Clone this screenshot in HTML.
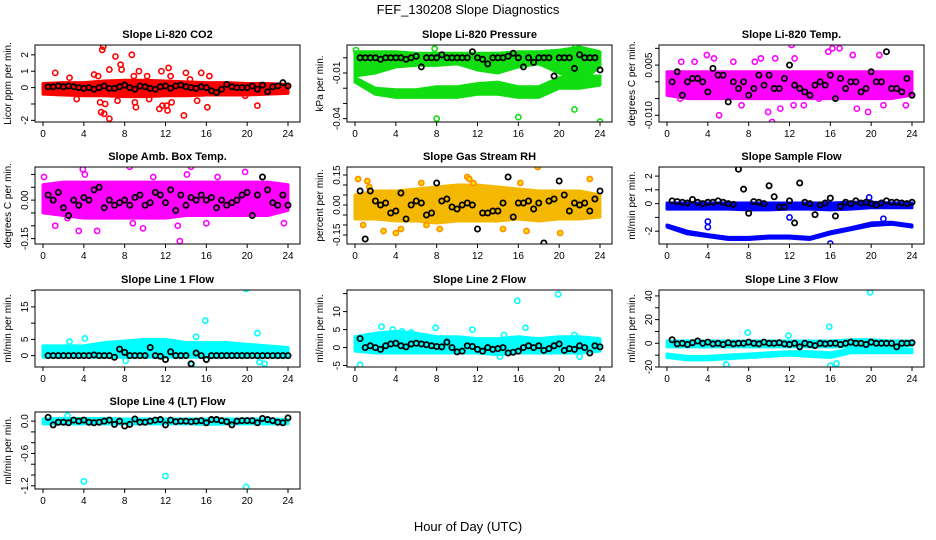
<!DOCTYPE html>
<html><head><meta charset="utf-8"><style>
html,body{margin:0;padding:0;background:#fff;}
svg{display:block;font-family:"Liberation Sans",sans-serif;}
</style></head><body>
<svg id="chart" width="936" height="540" viewBox="0 0 936 540">
<text x="468" y="14" text-anchor="middle" font-size="13">FEF_130208  Slope Diagnostics</text>
<text x="468" y="531" text-anchor="middle" font-size="13">Hour of Day (UTC)</text>
</svg>
<script>
const bandHours=[0,2,4,6,8,10,12,14,16,18,20,22,24];
const blackHours=[0.5,1,1.5,2,2.5,3,3.5,4,4.5,5,5.5,6,6.5,7,7.5,8,8.5,9,9.5,10,10.5,11,11.5,12,12.5,13,13.5,14,14.5,15,15.5,16,16.5,17,17.5,18,18.5,19,19.5,20,20.5,21,21.5,22,22.5,23,23.5,24];
const xTicks=[0,4,8,12,16,20,24];

const co2Lo=[-0.4,-0.45,-0.5,-0.5,-0.55,-0.55,-0.5,-0.5,-0.45,-0.45,-0.45,-0.4,-0.35];
const co2Hi=[0.25,0.3,0.3,0.4,0.45,0.45,0.4,0.35,0.3,0.3,0.25,0.25,0.2];
const co2ScatX=[1.2,2.6,3.3,5.0,5.4,5.6,5.8,5.9,6.0,5.7,6.1,6.5,6.5,7.1,7.6,7.7,7.3,8.7,8.9,9.1,9.4,9.0,10.2,10.4,11.4,11.6,11.7,12.1,12.2,12.3,12.5,12.6,13.8,14.0,14.4,15.1,15.5,16.1,16.3,19.8,21.0];
const co2ScatY=[0.9,0.6,-0.7,0.8,0.7,-0.9,2.3,2.5,-1.6,-1.5,-1.0,-1.9,1.1,1.9,1.4,1.1,-0.8,2.0,0.7,-1.2,1.0,-0.9,0.7,-0.7,-1.3,1.0,-1.1,-1.1,-1.4,1.2,0.7,-0.9,-1.7,0.9,0.5,-0.8,0.9,-1.2,0.7,-0.5,-1.1];
const co2Black=[0.05,0.05,0.1,0.05,0.1,0.05,0,-0.05,0,-0.1,0,0.1,-0.05,-0.05,0.05,0.15,0,-0.1,0.1,0.05,-0.05,-0.1,0.05,0.1,-0.05,0.1,0.15,0.05,0,-0.05,0.05,0,-0.2,-0.3,-0.1,0.2,0.05,0,0,0,0.1,-0.1,0.15,-0.25,0.05,0.1,0.3,0.1];

const presLo=[-0.012,-0.01,-0.006,-0.005,-0.005,-0.004,-0.008,-0.01,-0.006,-0.004,-0.01,-0.016,-0.006];
const presHi=[0.004,0.004,0.004,0.003,0.003,0.003,0.003,0.003,0.004,0.004,0.005,0.007,0.004];
const presLo2=[-0.016,-0.024,-0.026,-0.026,-0.026,-0.026,-0.024,-0.024,-0.026,-0.026,-0.02,-0.02,-0.018];
const presHi2=[-0.013,-0.02,-0.021,-0.021,-0.019,-0.019,-0.017,-0.016,-0.019,-0.019,-0.013,-0.012,-0.012];
const presScatX=[8,16,21.5,24,7.8,21.6,0.1];
const presScatY=[-0.04,-0.039,-0.034,-0.042,0.006,0.007,0.005];
const presBlack=[0,0,0,0,-0.001,0,0,0,0,-0.001,0,0.001,-0.006,0,0,0,0.002,0,0,0,0,0,0.004,0,-0.001,-0.004,0,0,0,0.001,0.003,0,-0.006,0,-0.003,0,0,0,-0.012,0,0,0,-0.007,0.002,0,0,0,-0.008];

const tempLo=[-0.004,-0.005,-0.005,-0.005,-0.005,-0.005,-0.005,-0.005,-0.005,-0.005,-0.005,-0.005,-0.004];
const tempHi=[0.003,0.003,0.003,0.003,0.003,0.003,0.003,0.003,0.003,0.003,0.003,0.003,0.003];
const tempScatX=[1.4,2.7,3.9,4.6,6.5,8.6,9.2,10.6,12.2,12.5,15.8,16.2,16.9,18.2,20.8,5.1,10.3,9.9,11.1,12.4,13.4,18.6,19.7,21.2,23.4,1.3,7.3,14.9];
const tempScatY=[0.006,0.006,0.008,0.007,0.006,0.006,0.007,0.007,0.011,0.007,0.009,0.010,0.010,0.008,0.008,-0.010,-0.012,-0.009,-0.008,-0.007,-0.007,-0.008,-0.009,-0.007,-0.007,-0.005,-0.007,-0.005];
const tempBlack=[0,0.003,-0.004,0,0.001,0.001,0,-0.003,0.004,0.002,0.002,-0.006,0,-0.002,0,-0.004,-0.002,0.002,-0.001,0.002,-0.002,-0.002,0.001,0.005,-0.001,-0.002,-0.003,-0.004,-0.001,0,-0.001,0.002,-0.005,0.001,-0.002,0,0,-0.003,-0.002,0.003,0,0,0.009,-0.002,-0.002,-0.003,0.001,-0.004];

const ambLo=[-0.05,-0.06,-0.07,-0.07,-0.07,-0.07,-0.07,-0.06,-0.06,-0.06,-0.06,-0.06,-0.04];
const ambHi=[0.06,0.07,0.07,0.07,0.07,0.07,0.07,0.07,0.07,0.07,0.07,0.07,0.06];
const ambScatX=[0.1,3.9,4.1,8.5,10.8,14.5,14.1,19.8,17.1,1.2,3.5,5.3,8.8,9.8,13.4,13.2,23.6,2.4,16.0];
const ambScatY=[0.09,0.12,0.1,0.13,0.09,0.13,0.1,0.11,0.09,-0.1,-0.12,-0.12,-0.09,-0.11,-0.16,-0.1,-0.09,-0.07,-0.09];
const ambBlack=[0.02,0,0.03,-0.03,-0.06,0,-0.02,0.01,0,0.04,0.05,-0.03,0,-0.02,-0.01,0,-0.02,0.01,0.02,-0.02,-0.01,0.03,0.02,-0.01,0.04,-0.04,0.02,-0.02,0.01,0,0.02,0,0.01,-0.03,0,-0.02,-0.01,0,0.02,0.03,-0.06,0.02,0.09,0.04,-0.01,-0.02,0.02,-0.02];

const rhLo=[-0.07,-0.07,-0.08,-0.08,-0.09,-0.08,-0.08,-0.08,-0.07,-0.08,-0.07,-0.07,-0.06];
const rhHi=[0.05,0.07,0.07,0.08,0.09,0.1,0.1,0.09,0.08,0.07,0.07,0.07,0.05];
const rhScatX=[0.3,1.2,1.4,11.0,11.2,11.6,17.9,16.2,4.0,4.5,2.8,6.5,14.5,16.8,20.1,23.0,0.8,7.0,8.3];
const rhScatY=[0.13,0.12,0.09,0.14,0.13,0.11,0.19,0.11,-0.14,-0.12,-0.13,0.11,-0.12,-0.13,-0.14,0.13,-0.1,-0.1,-0.12];
const rhBlack=[0.07,-0.17,0.07,0.02,0,0.01,-0.04,-0.03,0.06,-0.07,0,0.02,0.01,-0.05,-0.04,0.11,0.02,0.03,-0.01,-0.02,0,0.01,0,-0.12,-0.04,-0.04,-0.03,-0.03,0.01,0.14,-0.06,0.01,0.01,0.02,-0.02,0.01,-0.19,0.02,0.03,0.12,0.05,-0.03,0.01,0,0.01,-0.03,0.03,0.07];

const sfLo=[-0.4,-0.4,-0.4,-0.4,-0.45,-0.45,-0.4,-0.4,-0.45,-0.4,-0.3,-0.3,-0.3];
const sfHi=[0.05,0.05,0.05,0.05,0.05,0.05,0.05,0.05,0.05,0.1,0.1,0.05,0.05];
const sfLo2=[-1.7,-2.2,-2.4,-2.6,-2.6,-2.5,-2.5,-2.6,-2.2,-1.9,-1.6,-1.5,-1.7];
const sfHi2=[-1.55,-2.0,-2.25,-2.45,-2.45,-2.35,-2.35,-2.45,-2.05,-1.75,-1.4,-1.35,-1.55];
const sfScatX=[4,4,12,16,19.8,21.2];
const sfScatY=[-1.3,-1.7,-1.0,-2.9,0.45,-1.1];
const sfBlack=[0.2,0.15,0.1,0.05,0.3,0.1,0,0.1,0.1,0.2,0.1,0,-0.05,2.5,1.05,-0.7,0.15,0.1,0,1.3,0.5,-0.25,-0.25,0.2,-1.4,1.5,0.1,0,-0.8,-0.1,0.05,0.4,-0.9,-0.2,0.1,0,0.2,0.05,0.1,0,-0.1,0.05,0.2,0.1,0.1,0.05,0,0.1];

const l1Lo=[-0.5,-0.5,-0.5,-0.5,-0.5,-0.5,-0.5,-0.5,-0.5,-0.5,-0.5,-0.5,-0.5];
const l1Hi=[3,3,3,4,4.5,5,5,4,4,4,3.5,3,2.5];
const l1ScatX=[2.6,4.1,15.9,19.9,21.0,14.6,21.7,21.2,15,8.1];
const l1ScatY=[4.3,5.3,10.8,20.5,6.9,-2.7,-2.5,-2.0,5.8,-1.6];
const l1Black=[0,0,0,0,0,0,0,0,0,0.2,0,0,0,-0.5,2,1,0,0,0,0,2.5,0,-0.2,-1.2,1.2,0,0,0,-2.5,0.8,0,-1.2,0,0,0,0,0,0,0,0,0,0,0,0,0,0,0,0];

const l2Lo=[-1,-1.5,-1.5,-1.5,-1.5,-1.5,-1.5,-2,-1.5,-1.5,-1.5,-1.5,-1];
const l2Hi=[3,4,4.5,4,3,3,2.5,2.5,3,2.5,3,3,2.5];
const l2ScatX=[0.5,2.6,3.7,4.6,5.5,7.9,11.5,14.6,15.9,16.7,19.9,21.5,22,14.2];
const l2ScatY=[-4.8,5.8,5,4.5,4.2,5.5,5,3.5,13,5.5,14.8,3.5,-2.5,-2.5];
const l2Black=[2.5,0,0.5,0,-0.5,0.5,1,1.2,0.5,0.2,1,1.2,1,0.8,0.5,0.3,0.2,1.5,0,-1.2,-1,0.5,0.3,-0.5,-1,0,-0.5,-0.3,0,-1.5,-1.3,-1,0,0.5,0,0.5,-0.8,-0.3,0.5,1,-0.8,-0.3,-0.5,0.5,0,-1.5,0.5,0.2];

const l3Lo=[-3,-3,-3,-3,-3,-3,-3,-3,-3,-3,-3,-3,-2];
const l3Hi=[2,2,2,2,2,2,2,2,2,3,3,2,2];
const l3Lo2=[-12,-14,-14,-13,-12,-11,-10,-11,-12,-8,-8,-8,-8];
const l3Hi2=[-9,-11,-11,-10,-9,-8,-7,-7,-8,-5,-5,-5,-5];
const l3ScatX=[7.9,11.9,15.9,19.9,5.8,16,16.6];
const l3ScatY=[9,6.5,14,43,-18,-19,-17];
const l3Black=[3,-0.5,0,-1,0.5,2,0,1,-0.5,0,-1,0.5,-0.5,0,0,1,0,-0.5,1,0,0,0.5,-0.5,-1,0,-3,0,-1,-2,0,-0.5,0,0,-1,0,1,0,0,-1,1,0,0,0,0,-3,0,0,0.5];

const l4Lo=[-0.05,-0.05,-0.05,-0.05,-0.05,-0.05,-0.05,-0.05,-0.06,-0.05,-0.05,-0.05,-0.05];
const l4Hi=[0.04,0.05,0.05,0.05,0.04,0.04,0.04,0.04,0.04,0.04,0.04,0.04,0.03];
const l4ScatX=[4,12,19.9,2.4];
const l4ScatY=[-1.12,-1.02,-1.22,0.1];
const l4Black=[0.07,-0.07,-0.02,-0.02,-0.03,0.02,0,0.02,-0.02,-0.03,-0.02,0,0.02,-0.06,0,-0.09,-0.06,0.04,-0.02,-0.02,0,0.02,0.03,-0.07,0.02,-0.01,0,0,-0.01,0,0.01,-0.03,0.03,0.03,0.01,-0.01,-0.07,0,0.01,0.01,0.01,-0.03,0.05,0.03,0.01,-0.02,-0.03,0.06];

const co2Ticks=[-2,-1,0,1,2], co2Labels=["-2","","0","1","2"];
const presTicks=[0,-0.01,-0.02,-0.03,-0.04], presLabels=["","-0.01","","","-0.04"];
const tempTicks=[0.01,0.005,0,-0.005,-0.01], tempLabels=["","0.005","","","-0.010"];
const ambTicks=[0.1,0.05,0,-0.05,-0.1,-0.15], ambLabels=["","","0.00","","","-0.15"];
const rhTicks=[0.15,0.1,0.05,0,-0.05,-0.1,-0.15], rhLabels=["0.15","","","0.00","","","-0.15"];
const sfTicks=[2,1,0,-1,-2], sfLabels=["2","1","0","","-2"];
const l1Ticks=[0,5,10,15,20], l1Labels=["0","5","","15",""];
const l2Ticks=[-5,0,5,10,15], l2Labels=["-5","0","5","10",""];
const l3Ticks=[-20,-10,0,10,20,30,40], l3Labels=["-20","","0","","20","","40"];
const l4Ticks=[0,-0.2,-0.4,-0.6,-0.8,-1,-1.2], l4Labels=["0.0","","","-0.6","","","-1.2"];

const panels=[
 {name:"co2",title:"Slope Li-820 CO2",ylab:"Licor ppm per min.",r:0,c:0,ymin:-2.1,ymax:2.6,col:"#ff0000",fill:"none",bands:[[co2Lo,co2Hi]],sx:co2ScatX,sy:co2ScatY,blk:co2Black,ticks:co2Ticks,labels:co2Labels},
 {name:"pressure",title:"Slope Li-820 Pressure",ylab:"kPa per min.",r:0,c:1,ymin:-0.0422,ymax:0.0084,col:"#11dd11",fill:"none",bands:[[presLo,presHi],[presLo2,presHi2]],sx:presScatX,sy:presScatY,blk:presBlack,ticks:presTicks,labels:presLabels},
 {name:"temp",title:"Slope Li-820 Temp.",ylab:"degrees C per min.",r:0,c:2,ymin:-0.012,ymax:0.011,col:"#ff00ff",fill:"none",bands:[[tempLo,tempHi]],sx:tempScatX,sy:tempScatY,blk:tempBlack,ticks:tempTicks,labels:tempLabels},
 {name:"amb-box-temp",title:"Slope Amb. Box Temp.",ylab:"degrees C per min.",r:1,c:0,ymin:-0.171,ymax:0.129,col:"#ff00ff",fill:"none",bands:[[ambLo,ambHi]],sx:ambScatX,sy:ambScatY,blk:ambBlack,ticks:ambTicks,labels:ambLabels},
 {name:"gas-stream-rh",title:"Slope Gas Stream RH",ylab:"percent per min.",r:1,c:1,ymin:-0.195,ymax:0.19,col:"#ff8c00",fill:"#ffe000",bandFill:"#f5b800",bands:[[rhLo,rhHi]],sx:rhScatX,sy:rhScatY,blk:rhBlack,ticks:rhTicks,labels:rhLabels},
 {name:"sample-flow",title:"Slope Sample Flow",ylab:"ml/min per min.",r:1,c:2,ymin:-2.93,ymax:2.66,col:"#0000ff",fill:"none",bands:[[sfLo,sfHi],[sfLo2,sfHi2]],sx:sfScatX,sy:sfScatY,blk:sfBlack,ticks:sfTicks,labels:sfLabels},
 {name:"line1-flow",title:"Slope Line 1 Flow",ylab:"ml/min per min.",r:2,c:0,ymin:-3.5,ymax:20.2,col:"#00ffff",fill:"none",bands:[[l1Lo,l1Hi]],sx:l1ScatX,sy:l1ScatY,blk:l1Black,ticks:l1Ticks,labels:l1Labels},
 {name:"line2-flow",title:"Slope Line 2 Flow",ylab:"ml/min per min.",r:2,c:1,ymin:-5.4,ymax:16,col:"#00ffff",fill:"none",bands:[[l2Lo,l2Hi]],sx:l2ScatX,sy:l2ScatY,blk:l2Black,ticks:l2Ticks,labels:l2Labels},
 {name:"line3-flow",title:"Slope Line 3 Flow",ylab:"ml/min per min.",r:2,c:2,ymin:-20,ymax:45,col:"#00ffff",fill:"none",bands:[[l3Lo,l3Hi],[l3Lo2,l3Hi2]],sx:l3ScatX,sy:l3ScatY,blk:l3Black,ticks:l3Ticks,labels:l3Labels},
 {name:"line4-flow",title:"Slope Line 4 (LT) Flow",ylab:"ml/min per min.",r:3,c:0,ymin:-1.26,ymax:0.17,col:"#00ffff",fill:"none",bands:[[l4Lo,l4Hi]],sx:l4ScatX,sy:l4ScatY,blk:l4Black,ticks:l4Ticks,labels:l4Labels}
];
const rowTop=[45,167,290,412], rowBot=[122,244,367,489];
const NS="http://www.w3.org/2000/svg";
const svg=document.getElementById("chart");
function mk(tag,attrs,parent){const e=document.createElementNS(NS,tag);for(const k in attrs)e.setAttribute(k,attrs[k]);parent.appendChild(e);return e;}

panels.forEach(p=>{
 const L=35+312*p.c, R=300+312*p.c, T=rowTop[p.r], B=rowBot[p.r];
 const xs=h=>L+8+(R-12-L-8)*h/24;
 const ys=v=>B-(v-p.ymin)/(p.ymax-p.ymin)*(B-T);
 const g=mk("g",{},svg);
 
 
 const cx=(L+R)/2;
 const t=mk("text",{x:cx,y:T-7,"text-anchor":"middle","font-size":"11","font-weight":"bold"},g);
 
 
 t.textContent=p.title;
 const yl=mk("text",{x:0,y:0,"text-anchor":"middle","font-size":"10",transform:`translate(${L-24},${(T+B)/2}) rotate(-90)`},g);
 
 
 yl.textContent=p.ylab;
 const clip=mk("clipPath",{id:"clip-"+p.name},g);
 mk("rect",{x:L,y:T,width:R-L,height:B-T},clip);
 const dg=mk("g",{"clip-path":`url(#clip-${p.name})`},g);
 
 
 p.bands.forEach((b,bi)=>{
  let pts=[];
  bandHours.forEach((h,i)=>pts.push(xs(h)+","+ys(b[1][i])));
  for(let i=bandHours.length-1;i>=0;i--)pts.push(xs(bandHours[i])+","+ys(b[0][i]));
  const bc=p.bandFill||p.col;
  const poly=mk("polygon",{points:pts.join(" "),fill:bc,stroke:bc,"stroke-width":"3","stroke-linejoin":"round"},dg);
  
  
 });
 p.sx.forEach((h,i)=>{
  const c=mk("circle",{cx:xs(h),cy:ys(p.sy[i]),r:2.6,fill:p.fill,stroke:p.col,"stroke-width":"1.6"},dg);
  
  
 });
 blackHours.forEach((h,i)=>{
  const c=mk("circle",{cx:xs(h),cy:ys(p.blk[i]),r:2.6,fill:"none",stroke:"#000","stroke-width":"1.8"},dg);
  
  
 });
 const box=mk("rect",{x:L,y:T,width:R-L,height:B-T,fill:"none",stroke:"#000","stroke-width":"1"},g);
 
 
 xTicks.forEach(h=>{
  mk("line",{x1:xs(h),x2:xs(h),y1:B,y2:B+4,stroke:"#000"},g);
  const tl=mk("text",{x:xs(h),y:B+15,"text-anchor":"middle","font-size":"10"},g);
  
  
  tl.textContent=h;
 });
 p.ticks.forEach((v,i)=>{
  const yy=ys(v);
  mk("line",{x1:L-4,x2:L,y1:yy,y2:yy,stroke:"#000"},g);
  if(p.labels[i]){
   const tl=mk("text",{x:0,y:0,"text-anchor":"middle","font-size":"10",transform:`translate(${L-7},${yy}) rotate(-90)`},g);
   
   
   tl.textContent=p.labels[i];
  }
 });
});
</script>
</body></html>
